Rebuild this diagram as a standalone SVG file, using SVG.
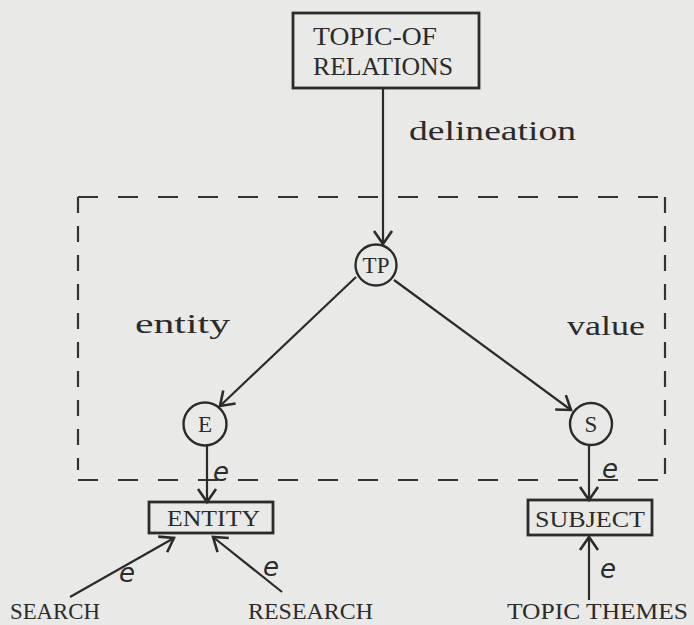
<svg xmlns="http://www.w3.org/2000/svg" width="694" height="625" viewBox="0 0 694 625">
  <defs>
    <style>
      .tw { font-family: "Liberation Serif", "Times New Roman", serif; fill: #2b2b2b; }
      .low { font-size: 27px; }
      .big { font-size: 26px; }
      .mid { font-size: 24px; }
      .sm { font-size: 24px; }
      .node { font-family: "Liberation Serif", "Times New Roman", serif; font-size: 23px; fill: #2b2b2b; text-anchor: middle; }
      .hand { font-family: "DejaVu Sans", sans-serif; font-style: oblique; font-size: 26px; fill: #2b2b2b; }
      .box { fill: none; stroke: #2b2b2b; stroke-width: 2.8; }
      .circ { fill: none; stroke: #2b2b2b; stroke-width: 2.4; }
      .edge { fill: none; stroke: #2b2b2b; stroke-width: 2.2; marker-end: url(#arr); }
      .dash-h { fill: none; stroke: #333; stroke-width: 2.2; stroke-dasharray: 20 20; }
      .dash-v { fill: none; stroke: #333; stroke-width: 2.2; stroke-dasharray: 16 13; }
    </style>
    <marker id="arr" markerUnits="userSpaceOnUse" markerWidth="30" markerHeight="30" viewBox="-15 -15 30 30" refX="0" refY="0" orient="auto" overflow="visible">
      <path d="M-13,-9 L0,0 L-13,9" fill="none" stroke="#2b2b2b" stroke-width="2.6"/>
    </marker>
  </defs>

  <rect width="694" height="625" fill="#e9e9e7"/>

  <!-- dashed boundary -->
  <g id="boundary">
    <line class="dash-h" x1="78" y1="197" x2="665" y2="197"/>
    <line class="dash-v" x1="78" y1="197" x2="78" y2="470"/>
    <line class="dash-v" x1="665" y1="197" x2="665" y2="486"/>
    <line class="dash-h" x1="78" y1="480" x2="665" y2="480"/>
  </g>

  <!-- connectors -->
  <g id="connectors">
    <line class="edge" x1="383" y1="88" x2="383" y2="244"/>
    <line class="edge" x1="356" y1="277" x2="220" y2="406"/>
    <line class="edge" x1="394" y1="280" x2="571" y2="410"/>
    <line class="edge" x1="207" y1="446" x2="207" y2="502"/>
    <line class="edge" x1="589" y1="445" x2="589" y2="500"/>
    <line class="edge" x1="70" y1="597" x2="174" y2="538"/>
    <line class="edge" x1="282" y1="592" x2="213" y2="537"/>
    <line class="edge" x1="589" y1="600" x2="589" y2="537"/>
  </g>

  <!-- edge labels -->
  <g id="edge-labels">
    <text class="tw low" x="409" y="140" textLength="167" lengthAdjust="spacingAndGlyphs">delineation</text>
    <text class="tw low" x="135" y="333" textLength="95" lengthAdjust="spacingAndGlyphs">entity</text>
    <text class="tw low" x="567" y="335" textLength="78" lengthAdjust="spacingAndGlyphs">value</text>
    <text class="hand" x="213" y="481">e</text>
    <text class="hand" x="119" y="582">e</text>
    <text class="hand" x="263" y="576">e</text>
    <text class="hand" x="602" y="478">e</text>
    <text class="hand" x="600" y="578">e</text>
  </g>

  <g id="topic-of-relations">
    <rect class="box" x="293" y="13" width="186" height="75"/>
    <text class="tw big" x="313" y="45" textLength="124" lengthAdjust="spacingAndGlyphs">TOPIC-OF</text>
    <text class="tw big" x="313" y="75" textLength="140" lengthAdjust="spacingAndGlyphs">RELATIONS</text>
  </g>

  <g id="tp">
    <circle class="circ" cx="376" cy="265" r="20.5"/>
    <text class="node" x="376" y="273">TP</text>
  </g>

  <g id="e">
    <circle class="circ" cx="205" cy="424" r="21.5"/>
    <text class="node" x="205" y="432">E</text>
  </g>

  <g id="s">
    <circle class="circ" cx="591" cy="424" r="21"/>
    <text class="node" x="591" y="432">S</text>
  </g>

  <g id="entity">
    <rect class="box" x="149" y="502" width="124" height="31"/>
    <text class="tw sm" x="167" y="526" textLength="93" lengthAdjust="spacingAndGlyphs">ENTITY</text>
  </g>

  <g id="subject">
    <rect class="box" x="528" y="500" width="124" height="35"/>
    <text class="tw sm" x="535" y="527" textLength="110" lengthAdjust="spacingAndGlyphs">SUBJECT</text>
  </g>

  <g id="search">
    <text class="tw mid" x="10" y="619" textLength="90" lengthAdjust="spacingAndGlyphs">SEARCH</text>
  </g>

  <g id="research">
    <text class="tw mid" x="248" y="619" textLength="125" lengthAdjust="spacingAndGlyphs">RESEARCH</text>
  </g>

  <g id="topic-themes">
    <text class="tw mid" x="507" y="619" textLength="181" lengthAdjust="spacingAndGlyphs">TOPIC THEMES</text>
  </g>
</svg>
